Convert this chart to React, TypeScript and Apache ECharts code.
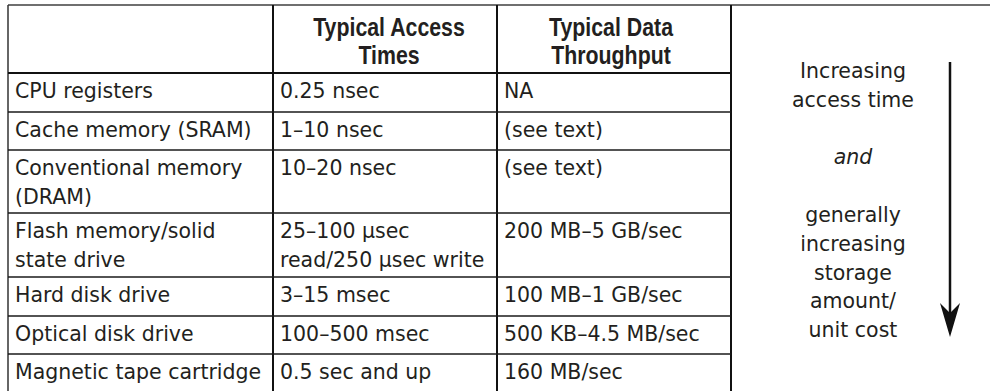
import React, { useEffect, useRef } from "react";
import * as echarts from "echarts";

// ---- table content ----
const headerAccess = ["Typical Access", "Times"];
const headerThroughput = ["Typical Data", "Throughput"];
const storageTypes = [
  ["CPU registers"],
  ["Cache memory (SRAM)"],
  ["Conventional memory", "(DRAM)"],
  ["Flash memory/solid", "state drive"],
  ["Hard disk drive"],
  ["Optical disk drive"],
  ["Magnetic tape cartridge"],
];
const accessTimes = [
  ["0.25 nsec"],
  ["1–10 nsec"],
  ["10–20 nsec"],
  ["25–100 µsec", "read/250 µsec write"],
  ["3–15 msec"],
  ["100–500 msec"],
  ["0.5 sec and up"],
];
const throughputs = [
  ["NA"],
  ["(see text)"],
  ["(see text)"],
  ["200 MB–5 GB/sec"],
  ["100 MB–1 GB/sec"],
  ["500 KB–4.5 MB/sec"],
  ["160 MB/sec"],
];
// side note lines: [text, line slot, italic]
const sideNote: [string, number, boolean][] = [
  ["Increasing", 0, false],
  ["access time", 1, false],
  ["and", 3, true],
  ["generally", 5, false],
  ["increasing", 6, false],
  ["storage", 7, false],
  ["amount/", 8, false],
  ["unit cost", 9, false],
];

// ---- layout ----
const W = 990;
const H = 391;
const TOP = 5;
const LEFT = 8;
const COLS = [LEFT, 273, 497, 731];
const HEADER_BOTTOM = 73;
const ROW_HEIGHTS = [39, 38, 63, 64, 39, 38, 37];
const PAD_X = 7;
const FIRST_BASELINE = 25.5;
const LINE_GAP = 29;
const BODY_FONT = "DejaVu Sans";
const BODY_SIZE = 20.5;
const TEXT_COLOR = "#231f20";

function bodyLine(text: string, x: number, baseline: number, align = "left", italic = false) {
  return {
    type: "text",
    silent: true,
    style: {
      text,
      x,
      y: baseline - 0.346 * BODY_SIZE,
      align,
      verticalAlign: "middle",
      fontFamily: BODY_FONT,
      fontSize: BODY_SIZE,
      fontStyle: italic ? "italic" : "normal",
      fill: TEXT_COLOR,
    },
  };
}

function headerLine(text: string, cx: number, baseline: number) {
  const size = 26;
  return {
    type: "text",
    silent: true,
    x: cx,
    y: baseline - 0.3465 * size,
    scaleX: 0.82,
    style: {
      text,
      x: 0,
      y: 0,
      align: "center",
      verticalAlign: "middle",
      fontFamily: "Liberation Sans",
      fontWeight: "bold",
      fontSize: size,
      fill: TEXT_COLOR,
    },
  };
}

function hLine(y: number, x1: number, x2: number, color: string, w: number) {
  return { type: "line", silent: true, shape: { x1, y1: y, x2, y2: y }, style: { stroke: color, lineWidth: w } };
}
function vLine(x: number, y1: number, y2: number, color: string, w: number) {
  return { type: "line", silent: true, shape: { x1: x, y1, x2: x, y2 }, style: { stroke: color, lineWidth: w } };
}

function buildGraphics() {
  const g: any[] = [];
  // borders
  g.push(hLine(TOP, LEFT, W, "#6f6f6f", 2));
  g.push(vLine(LEFT, TOP, H, "#333", 1.5));
  for (let i = 1; i < COLS.length; i++) g.push(vLine(COLS[i], TOP, H, "#111", 2));
  g.push(hLine(HEADER_BOTTOM, LEFT, COLS[3], "#111", 2));

  // header
  headerAccess.forEach((t, i) => g.push(headerLine(t, 389, 36 + i * 27.5)));
  headerThroughput.forEach((t, i) => g.push(headerLine(t, 611, 36 + i * 27.5)));

  // rows
  let top = HEADER_BOTTOM;
  for (let r = 0; r < storageTypes.length; r++) {
    const cells = [storageTypes[r], accessTimes[r], throughputs[r]];
    cells.forEach((lines, c) => {
      lines.forEach((t, li) => g.push(bodyLine(t, COLS[c] + PAD_X, top + FIRST_BASELINE + li * LINE_GAP)));
    });
    top += ROW_HEIGHTS[r];
    if (r < storageTypes.length - 1) g.push(hLine(top, LEFT, COLS[3], "#1a1a1a", 1.7));
  }

  // side note
  sideNote.forEach(([t, slot, it]) => g.push(bodyLine(t, 853, 78 + slot * 28.8, "center", it)));

  // arrow
  g.push(vLine(950, 62, 318, "#111", 2.5));
  g.push({
    type: "polygon",
    silent: true,
    shape: { points: [[940, 303], [950, 313], [960, 303], [950, 337]] },
    style: { fill: "#111" },
  });
  return g;
}

export default function App() {
  const ref = useRef<HTMLDivElement>(null);
  useEffect(() => {
    if (!ref.current) return;
    const chart = echarts.init(ref.current, undefined, { renderer: "svg", width: W, height: H });
    chart.setOption({
      animation: false,
      backgroundColor: "#ffffff",
      graphic: { elements: buildGraphics() },
    });
    return () => chart.dispose();
  }, []);
  return (
    <div
      ref={ref}
      style={{ position: "fixed", left: 0, top: 0, width: W, height: H, background: "#fff" }}
    />
  );
}
